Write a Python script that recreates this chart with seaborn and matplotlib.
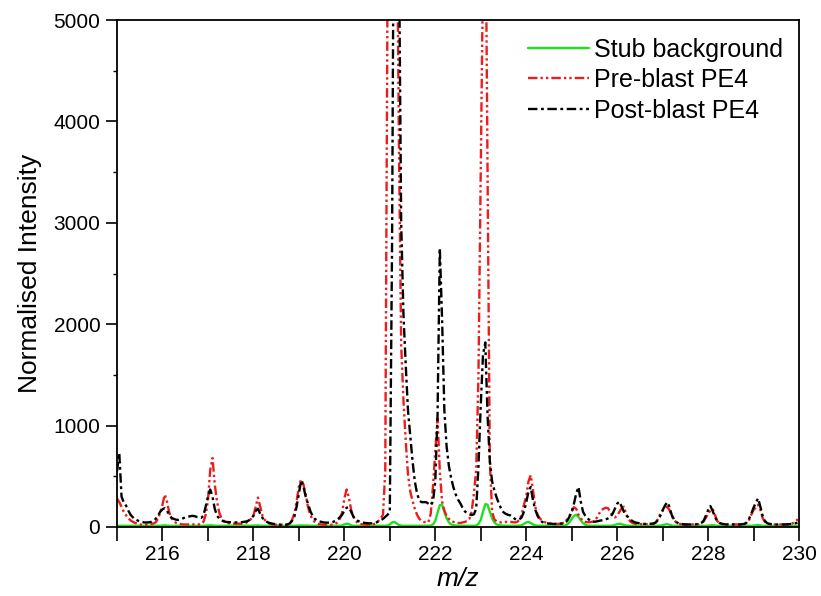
import numpy as np
import pandas as pd
import matplotlib
matplotlib.use("Agg")
import matplotlib.pyplot as plt
from matplotlib.ticker import MultipleLocator, FuncFormatter
import seaborn as sns

# m/z sampling axis (0.05 step, 215.00 .. 230.00)
mz = np.round(np.arange(21500, 23001, 5) / 100.0, 2)

series_names = ["Stub background", "Pre-blast PE4", "Post-blast PE4"]

stub_background = [
    12, 12, 12, 12, 12, 12, 12, 12, 12, 12, 12, 12, 12, 12, 12, 12, 12, 12, 12, 12,  # 215
    14, 16, 14, 12, 12, 12, 12, 12, 12, 12, 12, 12, 12, 12, 12, 12, 12, 12, 12, 14,  # 216
    16, 17, 15, 12, 12, 12, 12, 12, 12, 12, 12, 12, 12, 12, 12, 12, 12, 12, 12, 13,  # 217
    14, 16, 16, 13, 12, 12, 12, 12, 12, 12, 12, 12, 12, 12, 12, 12, 12, 12, 12, 14,  # 218
    15, 16, 15, 13, 12, 12, 12, 12, 12, 12, 12, 12, 12, 12, 12, 12, 12, 12, 12, 15,  # 219
    25, 33, 28, 16, 12, 12, 12, 12, 12, 12, 12, 12, 12, 12, 12, 12, 12, 12, 12, 15,  # 220
    25, 45, 50, 35, 20, 14, 12, 12, 12, 12, 12, 12, 12, 12, 12, 12, 12, 12, 15, 25,  # 221
    60, 140, 215, 220, 150, 85, 45, 25, 18, 15, 13, 12, 12, 12, 12, 12, 12, 12, 15, 30,  # 222
    70, 150, 225, 220, 150, 85, 45, 25, 18, 15, 13, 12, 12, 12, 12, 12, 12, 14, 18, 30,  # 223
    45, 50, 40, 25, 16, 13, 12, 12, 12, 12, 12, 12, 12, 12, 12, 12, 12, 15, 25, 45,  # 224
    80, 110, 120, 100, 65, 38, 22, 15, 12, 12, 12, 12, 12, 12, 12, 12, 12, 12, 15, 20,  # 225
    28, 32, 28, 20, 14, 12, 12, 12, 12, 12, 12, 12, 12, 12, 12, 12, 12, 12, 12, 14,  # 226
    18, 25, 28, 22, 15, 12, 12, 12, 12, 12, 12, 12, 12, 12, 12, 12, 12, 12, 12, 12,  # 227
    14, 16, 18, 15, 12, 12, 12, 12, 12, 12, 12, 12, 12, 12, 12, 12, 12, 12, 12, 12,  # 228
    14, 17, 20, 16, 12, 12, 12, 12, 12, 12, 12, 12, 12, 12, 12, 12, 12, 12, 12, 12,  # 229
    12,                                                                              # 230
]

pre_blast = [
    280, 245, 200, 150, 115, 85, 65, 50, 40, 32, 26, 22, 20, 22, 25, 28, 35, 45, 80, 140,  # 215
    220, 320, 250, 140, 85, 60, 40, 32, 28, 25, 25, 25, 25, 25, 25, 25, 25, 30, 50, 120,  # 216
    260, 560, 680, 420, 250, 140, 85, 60, 45, 38, 35, 33, 33, 33, 33, 33, 35, 45, 60, 80,  # 217
    110, 200, 290, 200, 110, 70, 50, 35, 28, 24, 22, 22, 22, 22, 22, 25, 35, 70, 130, 250,  # 218
    400, 470, 420, 320, 200, 120, 75, 50, 35, 28, 25, 22, 22, 22, 22, 25, 30, 45, 80, 140,  # 219
    280, 370, 290, 170, 100, 60, 38, 30, 26, 24, 23, 23, 24, 28, 40, 60, 85, 120, 550, 5300,  # 220
    9000, 10000, 9000, 6500, 3800, 1800, 1250, 850, 520, 350, 260, 180, 120, 80, 60, 50, 45, 48, 130, 400,  # 221
    750, 1070, 550, 250, 160, 110, 80, 60, 50, 45, 40, 40, 45, 50, 60, 80, 150, 330, 560, 1500,  # 222
    3500, 5500, 6500, 3500, 650, 150, 75, 55, 48, 45, 45, 50, 50, 50, 48, 45, 50, 70, 120, 220,  # 223
    300, 450, 510, 360, 200, 120, 85, 65, 50, 40, 35, 32, 30, 30, 30, 32, 38, 50, 75, 110,  # 224
    150, 195, 180, 120, 85, 60, 50, 48, 48, 50, 60, 90, 130, 165, 180, 190, 185, 150, 110, 95,  # 225
    110, 150, 185, 200, 120, 80, 50, 38, 32, 30, 28, 28, 28, 28, 28, 28, 30, 45, 80, 130,  # 226
    160, 190, 200, 170, 110, 70, 45, 32, 28, 25, 25, 25, 25, 25, 25, 25, 28, 35, 55, 90,  # 227
    130, 160, 180, 120, 60, 38, 30, 27, 25, 25, 25, 25, 25, 25, 25, 25, 30, 40, 70, 120,  # 228
    170, 190, 220, 170, 90, 50, 35, 30, 27, 25, 25, 25, 25, 25, 25, 27, 30, 35, 45, 65,  # 229
    100,  # 230
]

post_blast = [
    550, 730, 300, 240, 210, 160, 120, 95, 75, 65, 55, 50, 45, 45, 45, 50, 60, 80, 110, 150,  # 215
    175, 185, 160, 120, 90, 80, 72, 70, 75, 85, 95, 100, 105, 110, 108, 100, 95, 90, 110, 200,  # 216
    300, 370, 300, 180, 110, 85, 65, 55, 50, 48, 45, 45, 45, 45, 45, 48, 50, 55, 65, 85,  # 217
    110, 160, 180, 130, 90, 65, 50, 40, 35, 30, 28, 25, 22, 22, 22, 25, 35, 60, 100, 200,  # 218
    330, 460, 400, 300, 230, 160, 110, 80, 65, 55, 50, 45, 43, 43, 43, 50, 60, 75, 95, 120,  # 219
    160, 190, 195, 150, 102, 75, 60, 50, 45, 40, 38, 36, 36, 40, 45, 55, 65, 80, 100, 120,  # 220
    150, 2800, 7500, 8000, 5800, 3000, 2100, 1600, 1150, 900, 650, 450, 330, 260, 245, 245, 245, 230, 215, 250,  # 221
    450, 1100, 2750, 2050, 1150, 790, 600, 480, 390, 320, 270, 235, 190, 155, 135, 125, 118, 125, 180, 600,  # 222
    1200, 1700, 1820, 1100, 650, 450, 360, 290, 230, 180, 145, 130, 120, 115, 100, 80, 70, 75, 95, 150,  # 223
    240, 350, 395, 260, 170, 110, 70, 50, 40, 36, 34, 32, 30, 30, 30, 32, 35, 45, 60, 100,  # 224
    150, 230, 330, 395, 250, 150, 110, 85, 65, 55, 52, 55, 60, 65, 70, 75, 85, 100, 130, 180,  # 225
    230, 250, 200, 150, 115, 95, 70, 55, 45, 40, 35, 32, 30, 30, 30, 32, 35, 45, 70, 110,  # 226
    165, 210, 245, 200, 120, 75, 50, 35, 30, 27, 25, 25, 25, 25, 25, 27, 30, 40, 60, 110,  # 227
    165, 207, 160, 100, 60, 40, 32, 28, 25, 25, 25, 25, 25, 25, 25, 27, 30, 45, 80, 130,  # 228
    190, 240, 283, 200, 110, 60, 38, 30, 27, 25, 25, 25, 25, 25, 25, 27, 28, 30, 35, 40,  # 229
    45,  # 230
]

x_tick_labels = ["216", "218", "220", "222", "224", "226", "228", "230"]
y_tick_labels = ["0", "1000", "2000", "3000", "4000", "5000"]

df = pd.concat([
    pd.DataFrame({"mz": mz, "intensity": vals, "sample": name})
    for name, vals in zip(series_names, [stub_background, pre_blast, post_blast])
], ignore_index=True)

sns.set_theme(style="white")
plt.rcParams["font.family"] = ["Liberation Sans", "DejaVu Sans"]
plt.rcParams["text.color"] = "black"
plt.rcParams["axes.labelcolor"] = "black"
plt.rcParams["xtick.color"] = "black"
plt.rcParams["ytick.color"] = "black"

fig = plt.figure(figsize=(8.21, 5.96), dpi=100)
ax = fig.add_axes([117 / 821, 1 - 527 / 596, (799 - 117) / 821, (527 - 20) / 596])

palette = {"Stub background": "#1fe01f", "Pre-blast PE4": "#ee1c1c", "Post-blast PE4": "#000000"}
dashes = {"Stub background": "", "Pre-blast PE4": (4, 1.3, 1, 1.3, 1, 1.3), "Post-blast PE4": (4, 1.5, 1.2, 1.5)}

sns.lineplot(data=df, x="mz", y="intensity", hue="sample", style="sample",
             hue_order=series_names, style_order=series_names,
             palette=palette, dashes=dashes, estimator=None, errorbar=None,
             linewidth=1.7, legend=True, ax=ax)

ax.set_xlim(215, 230)
ax.set_ylim(0, 5000)

ax.xaxis.set_major_locator(MultipleLocator(1))
ax.xaxis.set_major_formatter(FuncFormatter(
    lambda v, p: (str(int(round(v))) if str(int(round(v))) in x_tick_labels else "")))
ax.yaxis.set_major_locator(MultipleLocator(1000))
ax.yaxis.set_minor_locator(MultipleLocator(500))
ax.yaxis.set_major_formatter(FuncFormatter(
    lambda v, p: (str(int(round(v))) if str(int(round(v))) in y_tick_labels else "")))

ax.tick_params(axis="x", which="major", direction="out", length=10, width=1.2,
               labelsize=15, pad=3, bottom=True, top=False, color="black",
               labelcolor="black")
ax.tick_params(axis="y", which="major", direction="out", length=8, width=1.2,
               labelsize=15, pad=4, left=True, right=False, color="black",
               labelcolor="black")
ax.tick_params(axis="y", which="minor", direction="out", length=3, width=1.0,
               left=True, right=False, color="black")

for s in ax.spines.values():
    s.set_color("black")
    s.set_linewidth(1.3)
    s.set_visible(True)

ax.set_xlabel("m/z", fontsize=19, style="italic", labelpad=2, color="black")
ax.set_ylabel("Normalised Intensity", fontsize=19, labelpad=8, color="black")

handles, labels = ax.get_legend_handles_labels()
hl = [(h, l) for h, l in zip(handles, labels) if l in series_names]
leg = ax.legend([h for h, _ in hl], [l for _, l in hl], loc="upper left",
                bbox_to_anchor=(0.595, 0.975), frameon=False, fontsize=18,
                handlelength=2.45, handletextpad=0.18, labelspacing=0.26,
                borderpad=0.2, borderaxespad=0)
for t in leg.get_texts():
    t.set_color("black")

fig.savefig("out.png", dpi=100)
